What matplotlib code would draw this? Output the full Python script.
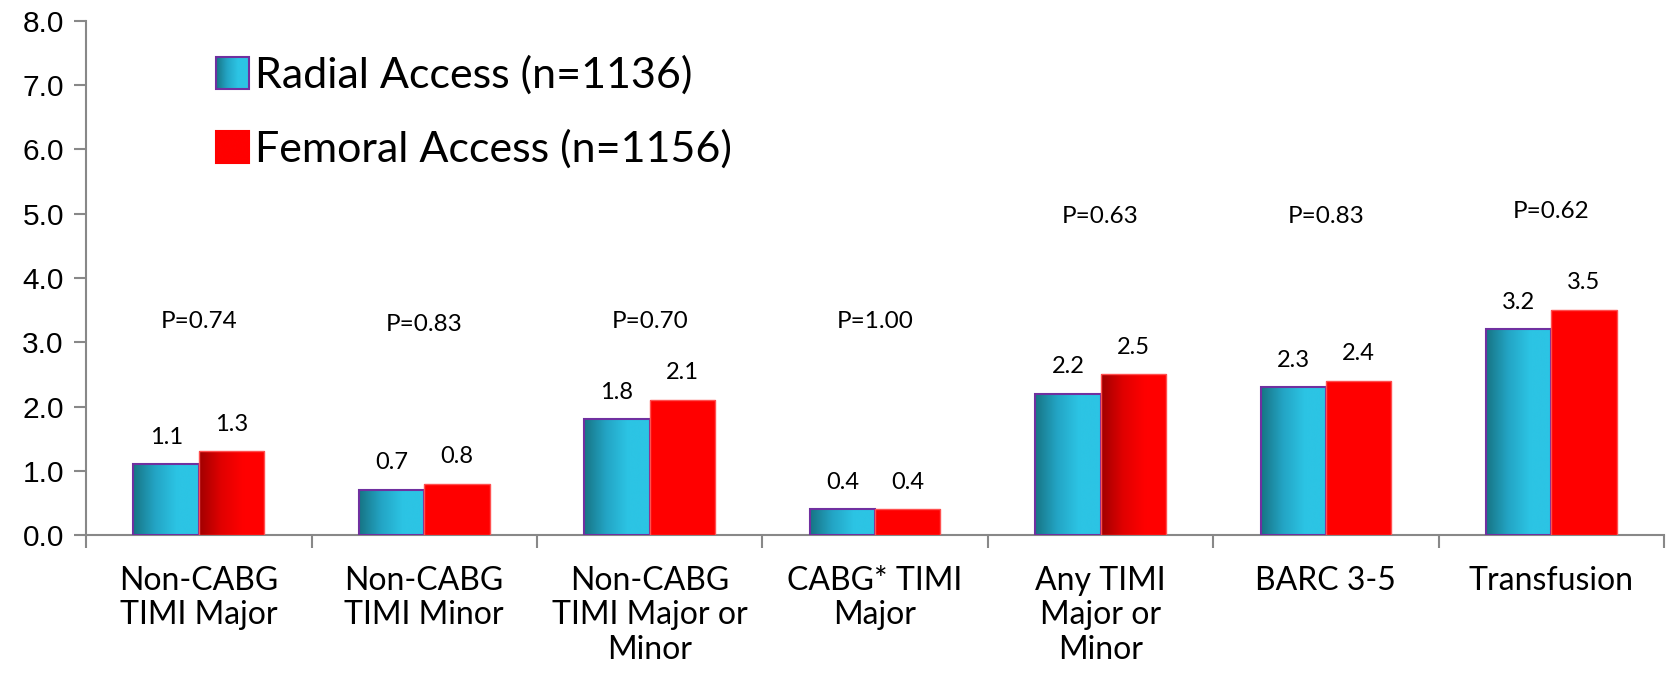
import numpy as np
import matplotlib
matplotlib.use("Agg")
import matplotlib.pyplot as plt
from matplotlib.colors import LinearSegmentedColormap
from matplotlib.legend_handler import HandlerBase
from matplotlib.image import BboxImage
from matplotlib.transforms import Bbox, TransformedBbox
from matplotlib.patches import Rectangle

categories = ["Non-CABG\nTIMI Major", "Non-CABG\nTIMI Minor", "Non-CABG\nTIMI Major or\nMinor",
              "CABG* TIMI\nMajor", "Any TIMI\nMajor or\nMinor", "BARC 3-5", "Transfusion"]
radial = [1.1, 0.7, 1.8, 0.4, 2.2, 2.3, 3.2]
femoral = [1.3, 0.8, 2.1, 0.4, 2.5, 2.4, 3.5]
p_labels = ["P=0.74", "P=0.83", "P=0.70", "P=1.00", "P=0.63", "P=0.83", "P=0.62"]
p_heights = [3.32, 3.28, 3.32, 3.32, 4.95, 4.95, 5.03]
femoral_shaded = [True, False, False, False, True, False, False]
legend_labels = ["Radial Access (n=1136)", "Femoral Access (n=1156)"]

teal = LinearSegmentedColormap.from_list("teal", ["#177484", "#23a4c4", "#2cc4e4", "#2cc4e4"])
darkred = LinearSegmentedColormap.from_list("dred", ["#a00000", "#e00000", "#ff0000", "#ff0000"])
flatred = LinearSegmentedColormap.from_list("fred", ["#ff0000", "#ff0000"])
grad = np.linspace(0, 1, 256).reshape(1, -1)

label_font = "Lato"


def fill_gradient(ax, bar, cmap):
    x, y = bar.get_x(), bar.get_y()
    w, h = bar.get_width(), bar.get_height()
    im = ax.imshow(grad, cmap=cmap, extent=(x, x + w, y, y + h), aspect="auto",
                   zorder=bar.get_zorder() - 0.1, interpolation="bicubic")
    im.set_clip_path(bar)


class GradHandler(HandlerBase):
    def __init__(self, cmap, edge):
        super().__init__()
        self.cmap = cmap
        self.edge = edge

    def create_artists(self, legend, orig_handle, xdescent, ydescent, width, height, fontsize, trans):
        side = height * 1.07
        x0 = -xdescent + (width - side) / 2
        y0 = -ydescent + (height - side) / 2
        bb = TransformedBbox(Bbox.from_bounds(x0, y0, side, side), trans)
        im = BboxImage(bb, cmap=self.cmap, interpolation="bicubic")
        im.set_data(grad)
        r = Rectangle((x0, y0), side, side, facecolor="none", edgecolor=self.edge, lw=1.5, transform=trans)
        return [im, r]


fig = plt.figure(figsize=(16.78, 6.9), dpi=100)
ax = fig.add_axes([0.0513, 0.2246, 0.9404, 0.745])

x = np.arange(len(categories)) + 0.5
w = 0.29
rb = ax.bar(x - w / 2, radial, w, facecolor="none", edgecolor="#7030a0", lw=1.5, zorder=3)
fb = ax.bar(x + w / 2, femoral, w, facecolor="none", edgecolor="#ff5050", lw=1.0, zorder=3)
for b in rb:
    fill_gradient(ax, b, teal)
for b, s in zip(fb, femoral_shaded):
    fill_gradient(ax, b, darkred if s else flatred)

for b, v in zip(list(rb) + list(fb), radial + femoral):
    ax.annotate(f"{v:.1f}", (b.get_x() + b.get_width() / 2, v), xytext=(0, 12),
                textcoords="offset points", ha="center", va="bottom", fontsize=17, family=label_font)

for xi, p, h in zip(x, p_labels, p_heights):
    ax.text(xi, h, p, ha="center", va="center", fontsize=17.5, family=label_font)

ax.set_xlim(0, len(categories))
ax.set_ylim(0, 8)
ax.set_yticks(np.arange(0, 8.1, 1))
ax.set_yticklabels([f"{t:.1f}" for t in np.arange(0, 8.1, 1)], fontsize=21.5, family="Liberation Sans")
ax.set_xticks(np.arange(len(categories) + 1))
ax.set_xticklabels([])
ax.set_xticks(x, minor=True)
ax.set_xticklabels(categories, minor=True, fontsize=23, family=label_font)
ax.tick_params(axis="x", which="minor", length=0, pad=22)
ax.tick_params(axis="x", which="major", length=9, width=1.5, color="#888888", direction="out")
ax.tick_params(axis="y", length=9, width=1.5, color="#888888", pad=7)
for s in ["top", "right"]:
    ax.spines[s].set_visible(False)
for s in ["left", "bottom"]:
    ax.spines[s].set_color("#888888")
    ax.spines[s].set_linewidth(1.5)

handles = [Rectangle((0, 0), 1, 1), Rectangle((0, 1), 1, 1)]
ax.legend(handles, legend_labels, loc="upper left", bbox_to_anchor=(0.058, 1.008), frameon=False,
          prop={"family": label_font, "size": 31}, handlelength=0.75, handletextpad=0.15, labelspacing=0.8,
          handler_map={handles[0]: GradHandler(teal, "#7030a0"), handles[1]: GradHandler(flatred, "#ff0000")})

fig.savefig("out.png", dpi=100)
